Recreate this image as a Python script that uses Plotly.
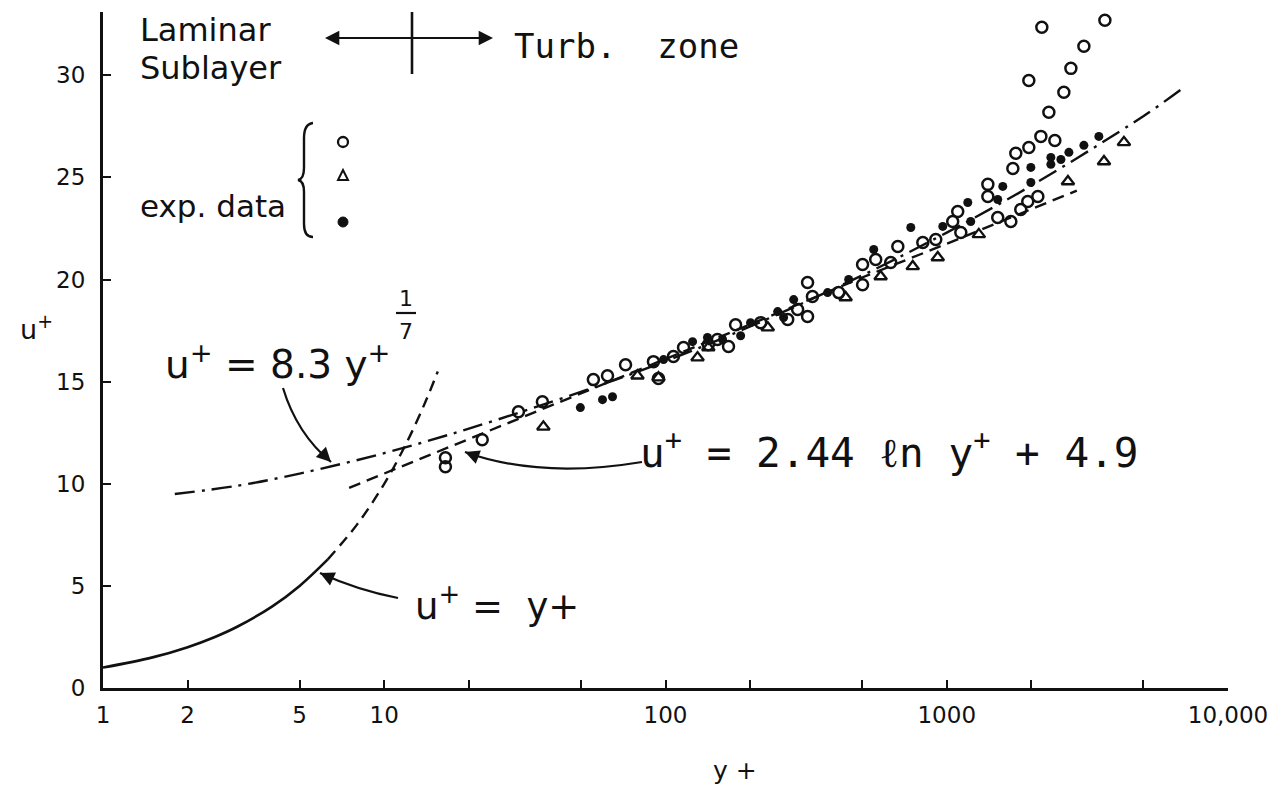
import plotly.graph_objects as go

# ---------------- data (y+, u+) ----------------
circle_y = [16.5, 16.5, 22.3, 30.0, 36.5, 55.4, 62.2, 72.1, 90.6, 94.4, 106.7, 115.9, 142, 153,
            167.5, 177.5, 218, 272, 295, 320, 333, 320, 413, 502, 502, 559, 632, 670, 822, 914,
            1050, 1094, 1122, 1400, 1400, 1518, 1690, 1833, 1941, 2108, 1718, 1760, 1958, 2161,
            2423, 2307, 2608, 2763, 3073, 3650, 2178, 1958]
circle_u = [11.27, 10.83, 12.16, 13.53, 14.02, 15.10, 15.29, 15.83, 15.98, 15.15, 16.23, 16.67, 16.81, 17.06,
            16.72, 17.79, 17.89, 18.04, 18.53, 19.85, 19.17, 18.19, 19.36, 20.74, 19.75, 20.98, 20.83, 21.62, 21.81, 21.96,
            22.84, 23.33, 22.30, 24.66, 24.07, 23.04, 22.84, 23.43, 23.82, 24.07, 25.44, 26.18, 26.47, 27.01,
            26.81, 28.19, 29.17, 30.34, 31.42, 32.70, 32.35, 29.75]

tri_y = [36.8, 79.5, 94.4, 130, 142, 231, 437, 582, 757, 929, 1300, 2697, 3623, 4266]
tri_u = [12.79, 15.29, 15.20, 16.18, 16.67, 17.65, 19.12, 20.15, 20.64, 21.08, 22.21, 24.80, 25.78, 26.72]

dot_y = [49.8, 59.7, 64.8, 98.4, 124.8, 141, 159.5, 185, 200.6, 250.5, 263, 285.6, 377, 448, 550,
         745, 968, 1188, 1217, 1518, 1582, 1991, 1991, 2345, 2345, 2718, 3073, 3474, 2546]
dot_u = [13.73, 14.12, 14.26, 16.08, 16.96, 17.16, 17.06, 17.25, 17.89, 18.43, 18.14, 19.02, 19.36, 20.0, 21.47,
         22.55, 22.6, 23.77, 22.84, 23.92, 24.56, 24.75, 25.49, 25.98, 25.64, 26.23, 26.57, 27.01, 25.88]

# u+ = y+  (solid part, then dashed continuation)
lin_solid_y = [1, 1.5, 2, 2.5, 3, 4, 5, 6.3]
lin_solid_u = [1, 1.5, 2, 2.5, 3, 4, 5, 6.3]
lin_dash_y = [6.3, 8, 10, 12, 14, 15.5]
lin_dash_u = [6.3, 8, 10, 12, 14, 15.5]

# u+ = 8.3 y+^(1/7)  (dash-dot)
pow_y = [1.8, 3, 5, 10, 20, 50, 100, 200, 500, 1000, 2000, 5000, 6800]
pow_u = [9.5, 9.9, 10.5, 11.5, 12.7, 14.5, 16.0, 17.7, 20.2, 22.3, 24.6, 28.0, 29.3]

# u+ = 2.44 ln y+ + 4.9  (dashed)
log_y = [7.5, 10, 20, 50, 100, 200, 500, 1000, 2000, 2900]
log_u = [9.8, 10.5, 12.2, 14.45, 16.1, 17.8, 20.1, 21.75, 23.45, 24.35]

x_tickvals = [1, 2, 5, 10, 20, 50, 100, 200, 500, 1000, 2000, 5000, 10000]
x_ticktext = ['1', '2', '5', '10', '', '', '100', '', '', '1000', '', '', '10,000']
y_tickvals = [0, 5, 10, 15, 20, 25, 30]

# ---------------- layout helpers (pixel -> paper) ----------------
W, H = 1287, 785
L, R, T, B = 103, 1228, 12, 688


def px(x):
    return (x - L) / (R - L)


def py(y):
    return (B - y) / (B - T)


FONT = "DejaVu Sans"
MONO = "DejaVu Sans Mono"
INK = "#111111"

fig = go.Figure()

fig.add_trace(go.Scatter(x=lin_solid_y, y=lin_solid_u, mode="lines", line_shape="spline",
                         line=dict(color=INK, width=2.6), showlegend=False))
fig.add_trace(go.Scatter(x=lin_dash_y, y=lin_dash_u, mode="lines", line_shape="spline",
                         line=dict(color=INK, width=2.4, dash="11px,7px"), showlegend=False))
fig.add_trace(go.Scatter(x=pow_y, y=pow_u, mode="lines", line_shape="spline",
                         line=dict(color=INK, width=2.4, dash="20px,7px,3px,7px"), showlegend=False))
fig.add_trace(go.Scatter(x=log_y, y=log_u, mode="lines",
                         line=dict(color=INK, width=2.4, dash="12px,7px"), showlegend=False))

fig.add_trace(go.Scatter(x=circle_y, y=circle_u, mode="markers",
                         marker=dict(symbol="circle-open", size=11, color=INK, line=dict(width=2.5)),
                         showlegend=False))
fig.add_trace(go.Scatter(x=tri_y, y=tri_u, mode="markers",
                         marker=dict(symbol="triangle-up-open", size=11, color=INK, line=dict(width=2.3)),
                         showlegend=False))
fig.add_trace(go.Scatter(x=dot_y, y=dot_u, mode="markers",
                         marker=dict(symbol="circle", size=9, color=INK),
                         showlegend=False))

shapes = []
annotations = []


def text(x, y, s, size, font=FONT, xanchor="left", yanchor="middle"):
    annotations.append(dict(x=px(x), y=py(y), xref="paper", yref="paper", text=s, showarrow=False,
                            xanchor=xanchor, yanchor=yanchor,
                            font=dict(family=font, size=size, color=INK)))


def arrowhead(x, y, ax, ay):
    annotations.append(dict(x=px(x), y=py(y), xref="paper", yref="paper", text="", showarrow=True,
                            ax=ax, ay=ay, arrowhead=2, arrowsize=1.3, arrowwidth=2.2, arrowcolor=INK))


def curve(p0, c, p1, width=2.2):
    path = "M {},{} Q {},{} {},{}".format(px(p0[0]), py(p0[1]), px(c[0]), py(c[1]), px(p1[0]), py(p1[1]))
    shapes.append(dict(type="path", xref="paper", yref="paper", path=path,
                       line=dict(color=INK, width=width)))


# Laminar sublayer / Turb. zone
text(138, 30, "Laminar", 32)
text(138, 68, "Sublayer", 32)
text(512, 46, "Turb.  zone", 34, font=MONO)
shapes.append(dict(type="line", xref="paper", yref="paper", x0=px(330), y0=py(38), x1=px(488), y1=py(38),
                   line=dict(color=INK, width=2.2)))
shapes.append(dict(type="line", xref="paper", yref="paper", x0=px(412), y0=py(12), x1=px(412), y1=py(74),
                   line=dict(color=INK, width=2.6)))
arrowhead(325, 38, 30, 0)
arrowhead(493, 38, -30, 0)

# exp. data key
text(138, 206, "exp. data", 31)
brace = ("M {},{} Q {},{} {},{} L {},{} Q {},{} {},{} Q {},{} {},{} L {},{} Q {},{} {},{}").format(
    px(313), py(123), px(304), py(124), px(304), py(138),
    px(304), py(168),
    px(304), py(179), px(298), py(180),
    px(304), py(181), px(304), py(192),
    px(304), py(224),
    px(304), py(237), px(313), py(237))
shapes.append(dict(type="path", xref="paper", yref="paper", path=brace, line=dict(color=INK, width=2.4)))
shapes.append(dict(type="circle", xref="paper", yref="paper", x0=px(338), x1=px(348), y0=py(147), y1=py(137),
                   line=dict(color=INK, width=2.3)))
shapes.append(dict(type="path", xref="paper", yref="paper",
                   path="M {},{} L {},{} L {},{} Z".format(px(338), py(180), px(348), py(180), px(343), py(170)),
                   line=dict(color=INK, width=2.0)))
shapes.append(dict(type="circle", xref="paper", yref="paper", x0=px(338), x1=px(348), y0=py(227), y1=py(217),
                   fillcolor=INK, line=dict(color=INK, width=1)))

# axis titles
text(18, 328, "u<sup>+</sup>", 27)
text(735, 770, "y +", 25, xanchor="center")

# equation labels
text(163, 362, "u<sup>+</sup> = 8.3 y<sup>+</sup>", 39)
text(406, 298, "1", 22, xanchor="center")
shapes.append(dict(type="line", xref="paper", yref="paper", x0=px(396), y0=py(313), x1=px(416), y1=py(313),
                   line=dict(color=INK, width=2.2)))
text(406, 331, "7", 22, xanchor="center")
curve((283, 388), (297, 434), (331, 462))
arrowhead(331, 462, -10, -10)

text(638, 450, "u<sup>+</sup> = 2.44 ℓn y<sup>+</sup> + 4.9", 41, font=MONO)
curve((642, 462), (540, 479), (465, 452))
arrowhead(465, 452, 13, 5)

text(413, 603, "u<sup>+</sup> =  y+", 37)
curve((398, 598), (357, 590), (320, 573))
arrowhead(320, 573, 13, 6)

fig.update_layout(
    width=W, height=H,
    margin=dict(l=L, r=W - R, t=T, b=H - B),
    paper_bgcolor="white", plot_bgcolor="white",
    shapes=shapes, annotations=annotations,
    xaxis=dict(type="log", range=[0, 4], showgrid=False, zeroline=False, showline=True,
               linecolor=INK, linewidth=3, ticks="inside", ticklen=8, tickwidth=2, tickcolor=INK,
               tickvals=x_tickvals, ticktext=x_ticktext, ticklabelstandoff=4,
               tickfont=dict(family=FONT, size=23, color=INK)),
    yaxis=dict(range=[0, 33.1], showgrid=False, zeroline=False, showline=True,
               linecolor=INK, linewidth=3, ticks="inside", ticklen=8, tickwidth=2, tickcolor=INK,
               tickvals=y_tickvals, ticklabelstandoff=10,
               tickfont=dict(family=FONT, size=23, color=INK)),
)

fig.write_html("out.html")
